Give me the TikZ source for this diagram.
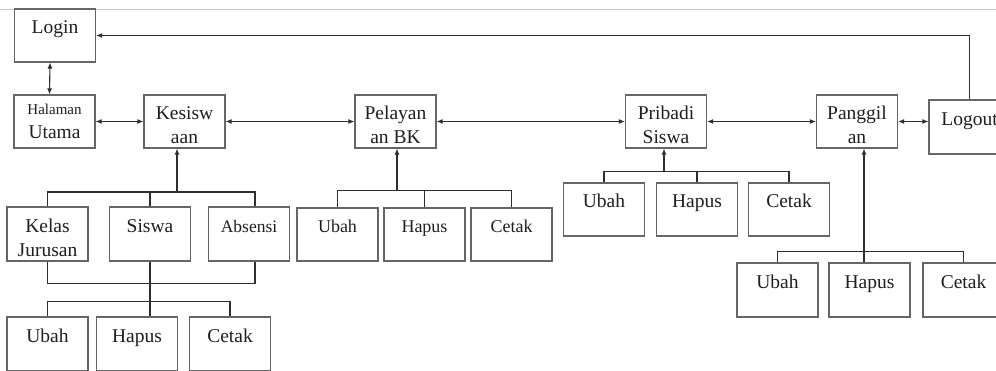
\documentclass[tikz,border=0pt]{standalone}
\usepackage{fontspec}
\setmainfont{Liberation Serif}
\usetikzlibrary{arrows.meta}
\definecolor{boxline}{gray}{0.40}
\definecolor{linkcol}{gray}{0.18}
\definecolor{txtcol}{gray}{0.12}
% invisible prop that gives the first text line some headroom
\newcommand{\headroom}{\rule{0pt}{20.5pt}}
\begin{document}
\begin{tikzpicture}[x=1pt,y=-1pt,
  box/.style={draw=boxline, line width=1.1pt, rectangle, minimum width=81pt,
    minimum height=53pt, inner sep=0pt, align=center, text=txtcol,
    font=\fontsize{19.5}{24}\selectfont},
  tall/.style={minimum height=54pt},
  small/.style={font=\fontsize{18}{24}\selectfont},
  link/.style={draw=linkcol, line width=1.1pt},
  tip/.style={-{Latex[length=6pt,width=5pt]}},
  both/.style={{Latex[length=6pt,width=5pt]}-{Latex[length=6pt,width=5pt]}}]
\useasboundingbox (0,0) rectangle (996,371);
\clip (0,0) rectangle (996,371);
\fill[white] (0,0) rectangle (996,371);

% page rule along the top
\draw[gray!40, line width=0.8pt] (0,9) -- (996,9);

% main menu row
\node[box] (login) at (55,35.5) {\headroom Login\\\mbox{}};
\node[box] (home) at (54.5,121.5) {{\fontsize{15}{18}\selectfont Halaman}\\Utama};
\node[box] (kes) at (184.5,121.5) {\headroom Kesisw\\aan};
\node[box] (bk) at (395.5,121.5) {\headroom Pelayan\\an BK};
\node[box] (pri) at (666,121.5) {\headroom Pribadi\\Siswa};
\node[box] (pgl) at (857,121.5) {\headroom Panggil\\an};
\node[box,tall] (out) at (969.5,127) {\headroom Logout\\\mbox{}};

% Kesiswaan sub-menu
\node[box,tall] (kelas) at (47.5,234) {\headroom Kelas\\Jurusan};
\node[box,tall] (siswa) at (150,234) {\headroom Siswa\\\mbox{}};
\node[box,tall,font=\fontsize{17.5}{24}\selectfont] (absen) at (249,234) {\headroom Absensi\\\mbox{}};
\node[box,tall] (su) at (47.5,344) {\headroom Ubah\\\mbox{}};
\node[box,tall] (sh) at (137,344) {\headroom Hapus\\\mbox{}};
\node[box,tall] (sc) at (230,344) {\headroom Cetak\\\mbox{}};

% Pelayanan BK sub-menu
\node[box,small] (bu) at (337.5,234.5) {\headroom Ubah\\\mbox{}};
\node[box,small] (bh) at (424.5,234.5) {\headroom Hapus\\\mbox{}};
\node[box,small] (bc) at (511.5,234.5) {\headroom Cetak\\\mbox{}};

% Pribadi Siswa sub-menu
\node[box] (pu) at (604,209.5) {\headroom Ubah\\\mbox{}};
\node[box] (ph) at (697,209.5) {\headroom Hapus\\\mbox{}};
\node[box] (pc) at (789,209.5) {\headroom Cetak\\\mbox{}};

% Panggilan sub-menu
\node[box,tall] (gu) at (777.5,290) {\headroom Ubah\\\mbox{}};
\node[box,tall] (gh) at (869.5,290) {\headroom Hapus\\\mbox{}};
\node[box,tall] (gc) at (963.5,290) {\headroom Cetak\\\mbox{}};

% main row links
\draw[link,both] ([xshift=-5pt]login.south) -- ([xshift=-5pt]home.north);
\draw[link,both] (home) -- (kes);
\draw[link,both] (kes) -- (bk);
\draw[link,both] (bk) -- (pri);
\draw[link,both] (pri) -- (pgl);
\draw[link,both] (pgl.east) -- (pgl.east -| out.west);
\draw[link,tip] (out.north) |- (login.east);

% Kesiswaan tree
\coordinate (kbus) at (177,192);
\draw[link] (kelas.north) -- (kelas.north |- kbus) -| ([xshift=6pt]absen.north);
\draw[link] (siswa.north) -- (siswa.north |- kbus);
\draw[link,tip] (kbus) -- (kbus |- kes.south);
\draw[link] (kelas.south) -- ++(0,22) -| ([xshift=6pt]absen.south);
\draw[link] (siswa.south) -- (siswa.south |- sh.north);
\draw[link] (su.north) -- ++(0,-15) -| (sc.north);

% Pelayanan BK tree
\coordinate (bbus) at (397,191);
\draw[link] (bu.north) -- ++(0,-17) -| (bc.north);
\draw[link] (bh.north) -- ++(0,-17);
\draw[link,tip] (bbus) -- (bbus |- bk.south);

% Pribadi Siswa tree
\coordinate (pbus) at (664,172);
\draw[link] (pu.north) -- ++(0,-11) -| (pc.north);
\draw[link] (ph.north) -- ++(0,-11);
\draw[link,tip] (pbus) -- (pbus |- pri.south);

% Panggilan tree
\coordinate (gbus) at (864,252);
\draw[link] (gu.north) -- ++(0,-11) -| (gc.north);
\draw[link] (gbus) -- (gbus |- gh.north);
\draw[link,tip] (gbus) -- (gbus |- pgl.south);
\end{tikzpicture}
\end{document}
